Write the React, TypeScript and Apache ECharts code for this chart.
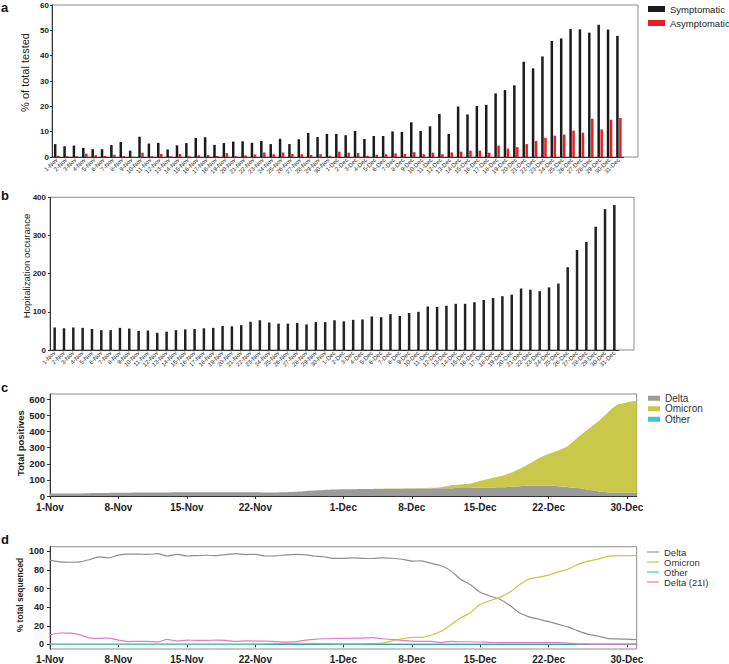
import React, { useEffect, useRef } from 'react';
import * as echarts from 'echarts';

// ---------- categories ----------
const novDates = Array.from({ length: 30 }, (_, i) => `${i + 1}-Nov`);
const decDates = Array.from({ length: 31 }, (_, i) => `${i + 1}-Dec`);
const dates = [...novDates, ...decDates];
const weekTickLabels = ['1-Nov', '8-Nov', '15-Nov', '22-Nov', '1-Dec', '8-Dec', '15-Dec', '22-Dec', '30-Dec'];

// ---------- panel a: % of total tested ----------
const symptomatic = [
  5.1, 4.2, 4.5, 3.6, 3.1, 3.1, 4.7, 5.9, 2.5, 8.0, 5.3, 5.6, 3.0, 4.6, 5.5, 7.5, 7.8, 4.8, 5.5, 6.1, 6.2,
  5.6, 6.3, 5.1, 7.2, 5.1, 7.0, 9.5, 7.9, 9.1, 9.1, 8.6, 10.3, 7.1, 8.3, 8.3, 10.1, 9.9, 13.7, 10.3, 12.1, 17.0, 9.1, 19.9, 16.8, 20.1, 20.6,
  25.1, 26.4, 28.3, 37.6, 35.0, 39.7, 45.8, 46.8, 50.5, 50.4, 49.1, 52.2, 50.3, 47.8,
];
const asymptomatic = [
  0.5, 0.3, 0.3, 1.3, 0.7, 0.4, 0.9, 0.4, 0.1, 1.7, 0.3, 1.2, 0.3, 1.2, 0.3, 0.7, 0.8, 0.4, 1.5, 0.3, 0.6,
  1.0, 1.8, 1.1, 1.8, 1.2, 1.1, 0.8, 1.1, 0.5, 2.1, 1.7, 1.6, 0.5, 0.9, 1.1, 1.4, 1.2, 1.9, 1.1, 1.7, 1.1, 1.8, 2.1, 2.5, 2.5, 1.7,
  4.5, 3.3, 3.9, 5.1, 6.3, 7.6, 8.4, 8.8, 10.4, 9.6, 15.1, 10.9, 14.7, 15.4,
];

// ---------- panel b: hospitalization ----------
const hospital = [
  59, 57, 59, 58, 55, 52, 52, 58, 56, 50, 51, 45, 48, 52, 54, 55, 57, 58, 63, 62, 65, 74,
  78, 72, 69, 69, 71, 67, 73, 73, 78, 75, 79, 80, 88, 86, 94, 89, 97, 100, 114, 113, 116, 121, 121, 125, 131,
  136, 141, 145, 161, 158, 154, 164, 174, 217, 262, 283, 323, 369, 380,
];

// ---------- panel c: total positives (stacked) ----------
const cDelta = [
  15, 15, 16, 16, 17, 18, 19, 20, 20, 21, 21, 22, 22, 23, 24, 24, 24, 24, 24, 24, 23, 23, 22, 22, 23, 26, 30, 34, 38, 40,
  42, 42, 43, 43, 44, 44, 45, 45, 46, 47, 48, 48, 49, 50, 51, 52, 54,
  56, 60, 63, 64, 63, 60, 55, 50, 40, 30, 24, 22, 22, 20,
];
const cOmicron = [
  0, 0, 0, 0, 0, 0, 0, 0, 0, 0, 0, 0, 0, 0, 0, 0, 0, 0, 0, 0, 0, 0, 0, 0, 0, 0, 0, 0, 0, 0,
  0, 1, 0, 1, 1, 2, 2, 3, 3, 4,
  7, 19, 23, 27, 43, 57, 68, 85, 108, 137, 170, 199, 223, 257, 314, 372, 429, 491, 544, 559, 571,
];
const cOther = [
  0, 0, 0, 0, 0, 0, 0, 0, 0, 0, 0, 0, 0, 0, 0, 0, 0, 0, 0, 0, 0, 0, 0, 0, 0, 0, 0, 0, 0, 0,
  0, 0, 0, 0, 0, 0, 0, 0, 0, 0, 0, 0, 0, 0, 0, 0, 0, 0, 0, 0, 0, 0, 0, 0, 0, 0, 0, 0, 0, 0, 0,
];
const cTicks = [0, 100, 200, 300, 400, 500, 600];

// ---------- panel d: % total sequenced ----------
const dDelta = [
  90.5, 88.7, 88.3, 88.7, 91, 94, 93, 96, 97, 97, 96.8, 97.5, 95, 96.8, 95, 95.5, 95.8, 95.3, 96.5, 97.5, 96.5, 96.8, 95, 95.2, 96, 96.8, 96.5, 95, 94.2, 92.5,
  92.5, 93, 92.5, 92.3, 93, 92.6, 91.5, 89.5, 89.8, 87,
  84.5, 79, 70, 64, 56, 52, 48.5, 42, 34, 29.5,
  27, 24.5, 21.5, 18.5, 14.5, 11, 9, 6.5, 5.8, 5.6, 5,
];
const dOmicron = [
  0, 0, 0, 0, 0, 0, 0, 0, 0, 0, 0, 0, 0, 0, 0, 0, 0, 0, 0, 0, 0,
  0.3, 0.5, 0.8, 1, 1.2, 1.2, 1, 0.8, 0.6,
  0.5, 0.5, 0.6, 0.8, 1.3, 3.8, 6, 7.4, 7.6, 10,
  14, 21, 28.5, 34, 43, 47, 50.5, 56, 64, 70.5,
  72.3, 74.5, 78, 81, 86, 89.5, 91.5, 94.5, 95.3, 95.4, 95.6,
];
const dOther = [
  0.2, 0.2, 0.2, 0.2, 0.2, 0.2, 0.2, 0.2, 0.2, 0.2, 0.2, 0.2, 0.2, 0.2, 0.2, 0.2, 0.2, 0.2, 0.2, 0.2,
  0.2, 0.2, 0.2, 0.2, 0.2, 0.2, 0.2, 0.2, 0.2, 0.2, 0.2, 0.2, 0.2, 0.2, 0.2, 0.2, 0.2, 0.2, 0.2, 0.2,
  0.2, 0.2, 0.2, 0.2, 0.2, 0.2, 0.2, 0.2, 0.2, 0.2, 0.2, 0.2, 0.2, 0.2, 0.2, 0.2, 0.2, 0.2, 0.2, 0.2, 0.2,
];
const dDelta21I = [
  10.3, 12.2, 12, 10.5, 7, 6.5, 6.8, 4.5, 3, 3.2, 3.2, 2.5, 5.3, 3.5, 4.5, 4.3, 4.3, 4.5, 4.3, 3.2, 3.8, 3.5, 3.5, 3, 2.5, 2.6, 4.3, 5.3, 6, 6.3,
  6.4, 6.6, 6.8, 7.2, 6, 5.2, 4.3, 3.5, 3.2, 3.1,
  2, 3.2, 2.8, 2.8, 2.5, 2.1, 1.9, 1.8, 1.8, 1.8,
  1.8, 1.8, 1.8, 1.4, 0.5, 0.4, 0.3, 0.3, 0.3, 0.3, 0.3,
];
const dTicks = [0, 20, 40, 60, 80, 100];

const FONT = '"Liberation Sans", Arial, Helvetica, sans-serif';
const AXIS = '#333';
const FRAME = '#8c8c8c';

const C_DELTA = '#9b9b9b';
const C_OMI = '#c9c84b';
const C_OTHER = '#3ec6d6';
const C_PINK = '#e47bc6';

export default function App() {
  const ref = useRef<HTMLDivElement>(null);

  useEffect(() => {
    if (!ref.current) return;
    const chart = echarts.init(ref.current, undefined, { renderer: 'svg' });

    const weekInterval = (_i: number, v: string) => weekTickLabels.includes(v);

    const barX = (gridIndex: number) => ({
      gridIndex,
      type: 'category',
      data: dates,
      axisLine: { lineStyle: { color: AXIS, width: 1 } },
      axisTick: { show: false },
      axisLabel: { interval: 0, rotate: 45, fontSize: 6, color: '#2a2a2a', margin: 2, fontFamily: FONT },
    });
    const hiddenAxis = (gridIndex: number) => ({ gridIndex, type: 'value', show: false });
    const yLab = (size: number, margin: number) => ({
      fontSize: size, fontWeight: 'bold', color: '#222', margin, fontFamily: FONT,
    });
    const frame = { show: true, borderColor: FRAME, borderWidth: 1, backgroundColor: 'transparent' };

    chart.setOption({
      animation: false,
      textStyle: { fontFamily: FONT },
      grid: [
        { left: 52, top: 5, width: 571.6, height: 152 },
        { left: 52, top: 5, width: 586, height: 152, ...frame },
        { left: 50, top: 197.3, width: 569, height: 152.7 },
        { left: 50, top: 197.3, width: 584, height: 152.7, ...frame },
        { left: 50, top: 394, width: 586.7, height: 102, ...frame },
        { left: 50, top: 546.7, width: 586.7, height: 103.3, ...frame },
      ],
      xAxis: [
        barX(0),
        hiddenAxis(1),
        barX(2),
        hiddenAxis(3),
        {
          gridIndex: 4, type: 'category', data: dates, boundaryGap: false,
          axisLine: { lineStyle: { color: AXIS } },
          axisTick: { interval: weekInterval, length: 3, lineStyle: { color: AXIS } },
          axisLabel: { interval: weekInterval, fontSize: 10, fontWeight: 'bold', color: '#222', margin: 6, fontFamily: FONT },
        },
        {
          gridIndex: 5, type: 'category', data: dates, boundaryGap: false,
          axisLine: { lineStyle: { color: AXIS } },
          axisTick: { interval: weekInterval, length: 3, lineStyle: { color: AXIS } },
          axisLabel: { interval: weekInterval, fontSize: 10, fontWeight: 'bold', color: '#222', margin: 5, fontFamily: FONT },
        },
      ],
      yAxis: [
        {
          gridIndex: 0, type: 'value', min: 0, max: 60, interval: 10,
          axisLine: { show: true, lineStyle: { color: AXIS } },
          axisTick: { show: true, length: 2, lineStyle: { color: AXIS } },
          axisLabel: yLab(8, 3),
          splitLine: { show: false },
        },
        hiddenAxis(1),
        {
          gridIndex: 2, type: 'value', min: 0, max: 400, interval: 100,
          axisLine: { show: true, lineStyle: { color: AXIS } },
          axisTick: { show: true, length: 2, lineStyle: { color: AXIS } },
          axisLabel: yLab(8, 4),
          splitLine: { show: false },
        },
        hiddenAxis(3),
        {
          gridIndex: 4, type: 'value', min: 0, max: 633,
          axisLine: { show: true, lineStyle: { color: AXIS } },
          axisTick: { show: true, length: 3, lineStyle: { color: AXIS }, customValues: cTicks },
          axisLabel: { ...yLab(9.5, 5), customValues: cTicks },
          splitLine: { show: false },
        },
        {
          gridIndex: 5, type: 'value', min: -5, max: 105,
          axisLine: { show: true, lineStyle: { color: AXIS } },
          axisTick: { show: true, length: 3, lineStyle: { color: AXIS }, customValues: dTicks },
          axisLabel: { ...yLab(9, 6), customValues: dTicks },
          splitLine: { show: false },
        },
      ],
      legend: [
        {
          data: ['Symptomatic', 'Asymptomatic'], orient: 'vertical', left: 648, top: 2, padding: 0,
          itemWidth: 17, itemHeight: 6, itemGap: 0, icon: 'rect',
          textStyle: { fontSize: 9.5, lineHeight: 14, color: '#222', fontFamily: FONT },
        },
        {
          data: ['Delta', 'Omicron', 'Other'], orient: 'vertical', left: 648, top: 393, padding: 0,
          itemWidth: 12, itemHeight: 5, itemGap: 0, icon: 'rect',
          textStyle: { fontSize: 10, lineHeight: 10.5, color: '#333', fontFamily: FONT },
        },
        {
          data: ['Delta', 'Omicron', 'Other', 'Delta (21I)'], orient: 'vertical', left: 647, top: 547, padding: 0,
          itemWidth: 12, itemHeight: 1.2, itemGap: 0, icon: 'rect',
          textStyle: { fontSize: 9.5, lineHeight: 9.7, color: '#333', fontFamily: FONT },
        },
      ],
      graphic: [
        { type: 'text', x: 1, y: 7.5, style: { text: 'a', font: `bold 13px ${FONT}`, fill: '#111', verticalAlign: 'middle' } },
        { type: 'text', x: 1, y: 195.5, style: { text: 'b', font: `bold 13px ${FONT}`, fill: '#111', verticalAlign: 'middle' } },
        { type: 'text', x: 1, y: 387, style: { text: 'c', font: `bold 13px ${FONT}`, fill: '#111', verticalAlign: 'middle' } },
        { type: 'text', x: 1, y: 539.5, style: { text: 'd', font: `bold 13px ${FONT}`, fill: '#111', verticalAlign: 'middle' } },
        { type: 'text', x: 25, y: 72.5, rotation: Math.PI / 2, style: { text: '% of total tested', font: `11px ${FONT}`, fill: '#222', align: 'center', verticalAlign: 'middle' } },
        { type: 'text', x: 26, y: 266, rotation: Math.PI / 2, style: { text: 'Hopitalization occurance', font: `9.6px ${FONT}`, fill: '#222', align: 'center', verticalAlign: 'middle' } },
        { type: 'text', x: 20, y: 443, rotation: Math.PI / 2, style: { text: 'Total positives', font: `bold 9.5px ${FONT}`, fill: '#222', align: 'center', verticalAlign: 'middle' } },
        { type: 'text', x: 19.5, y: 595, rotation: Math.PI / 2, style: { text: '% total sequenced', font: `bold 8.5px ${FONT}`, fill: '#222', align: 'center', verticalAlign: 'middle' } },
      ],
      series: [
        { name: 'Symptomatic', type: 'bar', xAxisIndex: 0, yAxisIndex: 0, data: symptomatic, barWidth: 2.5, barGap: '20%', itemStyle: { color: '#1b1b1b' } },
        { name: 'Asymptomatic', type: 'bar', xAxisIndex: 0, yAxisIndex: 0, data: asymptomatic, barWidth: 2.5, barGap: '20%', itemStyle: { color: '#ec1c24' } },
        { name: 'Hospitalization', type: 'bar', xAxisIndex: 2, yAxisIndex: 2, data: hospital, barWidth: 2.5, itemStyle: { color: '#222' } },
        { name: 'Delta', type: 'line', xAxisIndex: 4, yAxisIndex: 4, stack: 'c', data: cDelta, symbol: 'none', smooth: 0.3, lineStyle: { width: 0 }, itemStyle: { color: C_DELTA }, areaStyle: { color: C_DELTA, opacity: 1 } },
        { name: 'Omicron', type: 'line', xAxisIndex: 4, yAxisIndex: 4, stack: 'c', data: cOmicron, symbol: 'none', smooth: 0.3, lineStyle: { width: 0 }, itemStyle: { color: C_OMI }, areaStyle: { color: C_OMI, opacity: 1 } },
        { name: 'Other', type: 'line', xAxisIndex: 4, yAxisIndex: 4, stack: 'c', data: cOther, symbol: 'none', smooth: 0.3, lineStyle: { width: 0 }, itemStyle: { color: C_OTHER }, areaStyle: { color: C_OTHER, opacity: 1 } },
        { name: 'Delta', type: 'line', xAxisIndex: 5, yAxisIndex: 5, data: dDelta, symbol: 'none', smooth: 0.2, lineStyle: { width: 1.2, color: '#8f8f8f' }, itemStyle: { color: '#8f8f8f' } },
        { name: 'Omicron', type: 'line', xAxisIndex: 5, yAxisIndex: 5, data: dOmicron, symbol: 'none', smooth: 0.2, lineStyle: { width: 1.2, color: '#c8c83a' }, itemStyle: { color: '#c8c83a' } },
        { name: 'Other', type: 'line', xAxisIndex: 5, yAxisIndex: 5, data: dOther, symbol: 'none', smooth: 0.2, lineStyle: { width: 1.2, color: C_OTHER }, itemStyle: { color: C_OTHER } },
        { name: 'Delta (21I)', type: 'line', xAxisIndex: 5, yAxisIndex: 5, data: dDelta21I, symbol: 'none', smooth: 0.2, lineStyle: { width: 1.2, color: C_PINK }, itemStyle: { color: C_PINK } },
      ],
    });

    return () => chart.dispose();
  }, []);

  return (
    <div
      ref={ref}
      style={{ position: 'absolute', left: 0, top: 0, width: 729, height: 664, background: '#fff' }}
    />
  );
}
